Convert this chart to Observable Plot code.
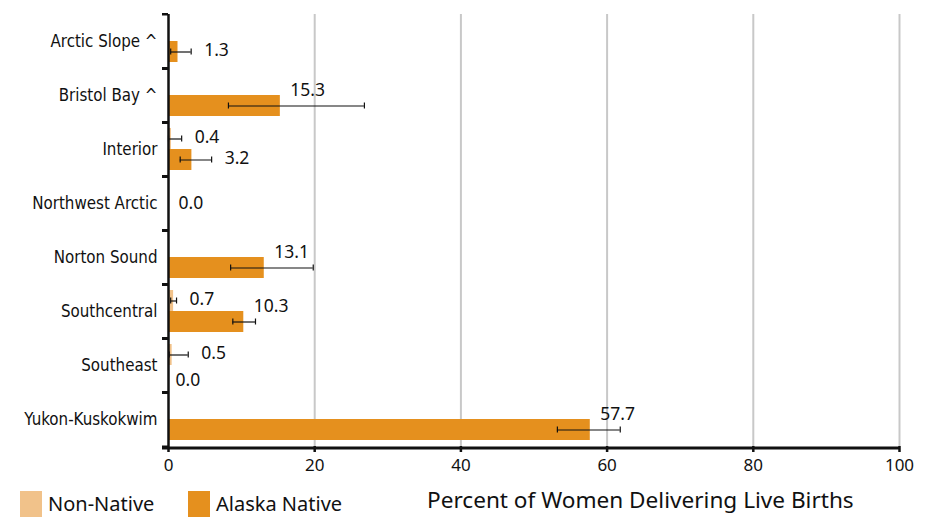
<!DOCTYPE html>
<html>
<head>
<meta charset="utf-8">
<script src="https://cdn.jsdelivr.net/npm/d3@7"></script>
<script src="https://cdn.jsdelivr.net/npm/@observablehq/plot@0.6"></script>
<style>
  body { margin: 0; background: #fff; font-family: "Noto Sans", sans-serif; }
  #wrap { position: relative; width: 925px; height: 517px; overflow: hidden; }
  .leg { position: absolute; top: 490px; display: flex; align-items: center; font-size: 20px; color: #111; }
  .sw { width: 22px; height: 26px; margin-right: 6px; }
  #xlabel { position: absolute; top: 486px; left: 427px; font-size: 22.6px; line-height: 28px; color: #111; white-space: nowrap; }
</style>
</head>
<body>
<div id="wrap">
  <div id="chart"></div>
  <div class="leg" style="left:20px"><div class="sw" style="background:#f1c28a"></div>Non-Native</div>
  <div class="leg" style="left:188px"><div class="sw" style="background:#e5901e"></div>Alaska Native</div>
  <div id="xlabel">Percent of Women Delivering Live Births</div>
</div>
<script>
const regions = ["Arctic Slope ^","Bristol Bay ^","Interior","Northwest Arctic","Norton Sound","Southcentral","Southeast","Yukon-Kuskokwim"];
const series = ["Non-Native","Alaska Native"];
const nonNative      = [null, null, 0.4, null, null, 0.7, 0.5, null];
const nonNativeLow   = [null, null, 0.0, null, null, 0.3, 0.1, null];
const nonNativeHigh  = [null, null, 1.8, null, null, 1.1, 2.7, null];
const alaskaNative     = [1.3, 15.3, 3.2, 0.0, 13.1, 10.3, 0.0, 57.7];
const alaskaNativeLow  = [0.3, 8.2, 1.6, null, 8.5, 8.8, null, 53.2];
const alaskaNativeHigh = [3.1, 26.8, 5.9, null, 19.8, 11.9, null, 61.8];
const xTicks = [0, 20, 40, 60, 80, 100];
const colors = ["#f1c28a", "#e5901e"];

const rows = [];
regions.forEach((region, i) => {
  [[series[0], nonNative, nonNativeLow, nonNativeHigh],
   [series[1], alaskaNative, alaskaNativeLow, alaskaNativeHigh]].forEach(([s, v, lo, hi]) => {
    if (v[i] != null) rows.push({region, series: s, value: v[i], lo: lo[i], hi: hi[i]});
  });
});
// regions with no visible bar: label centred in the band
const visible = new Set(rows.filter(d => d.value > 0).map(d => d.region));
const centred = rows.filter(d => !visible.has(d.region));
const normal = rows.filter(d => visible.has(d.region));
const errRows = rows.filter(d => d.lo != null);
const fmt = d3.format(".1f");
const font = "Noto Sans, sans-serif";
const condensed = "Liberation Sans Narrow, DejaVu Sans Condensed, sans-serif";

const H = 484, mTop = 12, mBottom = 36;
const band = (H - mTop - mBottom) / regions.length;

const chart = Plot.plot({
  width: 925,
  height: H,
  marginTop: mTop,
  marginBottom: mBottom,
  marginLeft: 168,
  marginRight: 26,
  style: {fontFamily: font, fontSize: "16px", color: "#111", background: "white"},
  x: {domain: [0, 100], label: null},
  y: {domain: series, paddingInner: 0, paddingOuter: 0.28, axis: null},
  fy: {domain: regions, padding: 0, label: null, axis: null},
  color: {domain: series, range: colors},
  marks: [
    Plot.gridX({ticks: xTicks.slice(1), stroke: "#c8c8c8", strokeOpacity: 1, strokeWidth: 2}),
    Plot.barX(rows, {x: "value", y: "series", fy: "region", fill: "series"}),
    Plot.ruleY(errRows, {x1: "lo", x2: "hi", y: "series", fy: "region", stroke: "#111", strokeWidth: 1.2}),
    Plot.tickX(errRows, {x: "lo", y: "series", fy: "region", stroke: "#111", strokeWidth: 1.2, insetTop: 7.5, insetBottom: 7.5}),
    Plot.tickX(errRows, {x: "hi", y: "series", fy: "region", stroke: "#111", strokeWidth: 1.2, insetTop: 7.5, insetBottom: 7.5}),
    Plot.text(normal.filter(d => d.value < 5 && d.hi != null), {x: "hi", y: "series", fy: "region", text: d => fmt(d.value), textAnchor: "start", dx: 13, dy: -2, fontSize: 17.5, fill: "#111"}),
    Plot.text(normal.filter(d => d.value < 5 && d.hi == null), {x: "value", y: "series", fy: "region", text: d => fmt(d.value), textAnchor: "start", dx: 7, dy: 4, fontSize: 17.5, fill: "#111"}),
    Plot.text(normal.filter(d => d.value >= 5), {x: "value", y: "series", fy: "region", text: d => fmt(d.value), textAnchor: "start", dx: 10, dy: -16, fontSize: 17.5, fill: "#111"}),
    Plot.text(centred, {x: "value", fy: "region", text: d => fmt(d.value), textAnchor: "start", dx: 10, fontSize: 17.5, fill: "#111"}),
    Plot.ruleX([0], {stroke: "#111", strokeWidth: 2.5}),
    Plot.axisFy({anchor: "left", tickSize: 0, tickPadding: 11, dy: 0.5, fontSize: 16.8, fontFamily: condensed, fill: "#111", label: null}),
    Plot.axisFy({anchor: "left", tickSize: 6, text: null, dy: -band / 2, stroke: "#111", strokeWidth: 2.5, label: null}),
    Plot.axisFy({anchor: "left", tickSize: 6, text: null, dy: band / 2, stroke: "#111", strokeWidth: 2.5, label: null}),
    Plot.axisX({ticks: xTicks, tickSize: 6, tickPadding: 6, stroke: "#111", strokeWidth: 2.5, fontSize: 17, fill: "#111", label: null})
  ]
});
// bottom axis baseline, positioned with the chart's own x scale
const xs = chart.scale("x");
d3.select(chart).append("line")
  .attr("x1", xs.apply(xTicks[0]) - 6).attr("x2", xs.apply(xTicks[xTicks.length - 1]))
  .attr("y1", H - mBottom).attr("y2", H - mBottom)
  .attr("stroke", "#111").attr("stroke-width", 3);
document.getElementById("chart").appendChild(chart);
</script>
</body>
</html>
